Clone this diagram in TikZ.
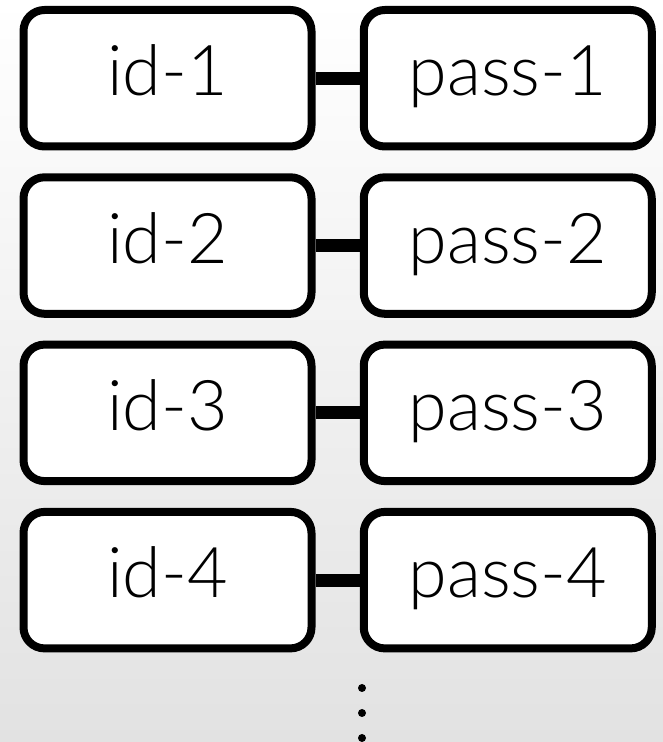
\documentclass[tikz,border=0pt]{standalone}
\usepackage{fontspec}
\setmainfont{Lato}[UprightFont=* Light]
\usetikzlibrary{calc}

\begin{document}
\begin{tikzpicture}[x=1pt, y=1pt, line cap=round, line join=round,
	cell/.style={draw=black, line width=8pt, fill=white, rounded corners=21pt,
		minimum width=288pt, minimum height=136.5pt, inner sep=0pt,
		font=\fontsize{70}{70}\selectfont, text height=52pt, text depth=16.5pt},
	link/.style={line width=13pt, line cap=butt}]
	
	% background: white at top, light gray at bottom
	\shade[top color=white, bottom color={rgb,255:red,226;green,226;blue,226}]
	(0,0) rectangle (663,742);
	\useasboundingbox (0,0) rectangle (663,742);
	
	%========================
	% id / pass pairs
	%========================
	\node[cell] (id1)   at (167.5,663.75) {id-1};
	\node[cell] (pass1) at (507.75,663.75) {pass-1};
	\node[cell] (id2)   at (167.5,496.45) {id-2};
	\node[cell] (pass2) at (507.75,496.45) {pass-2};
	\node[cell] (id3)   at (167.5,329.15) {id-3};
	\node[cell] (pass3) at (507.75,329.15) {pass-3};
	\node[cell] (id4)   at (167.5,161.85) {id-4};
	\node[cell] (pass4) at (507.75,161.85) {pass-4};
	
	% links
	\draw[link] (id1.east) -- (pass1.west);
	\draw[link] (id2.east) -- (pass2.west);
	\draw[link] (id3.east) -- (pass3.west);
	\draw[link] (id4.east) -- (pass4.west);
	
	% more rows follow
	\fill (362,54) circle (4);
	\fill (362,29) circle (4);
	\fill (362,4)  circle (4);
	
\end{tikzpicture}
\end{document}
